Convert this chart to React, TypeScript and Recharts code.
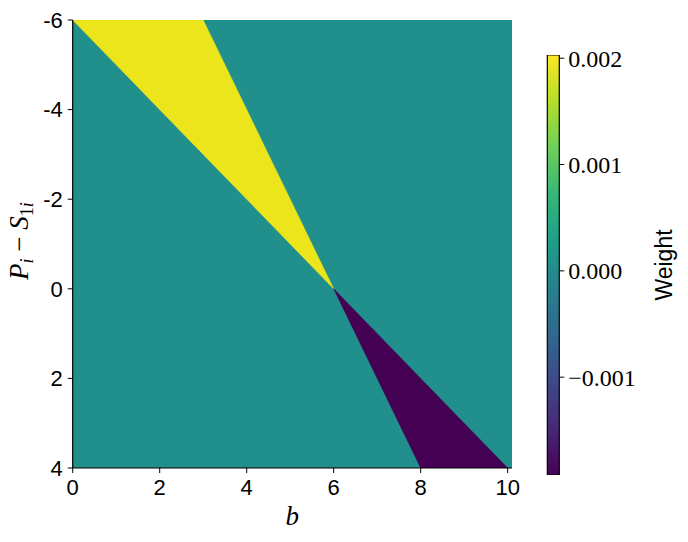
import React from "react"
import {
  ComposedChart,
  Area,
  XAxis,
  YAxis,
  CartesianGrid,
  BarChart,
  Bar,
} from "recharts"

// wedge vertices along b, as [low, high] ranges of P_i - S_1i
const bValues = [0, 3, 6, 8, 10]
const positiveWedge = [[-6, -6], [-6, -3], [0, 0], null, null]
const negativeWedge = [null, null, [0, 0], [2, 4], [4, 4]]

const xTicks = [0, 2, 4, 6, 8, 10]
const yTicks = [-6, -4, -2, 0, 2, 4]

const weightRange = [-0.00192, 0.00203]
const weightTicks = [-0.001, 0, 0.001, 0.002]

const VIRIDIS = [
  "#440154", "#482878", "#3e4989", "#31688e", "#26828e",
  "#1f9e89", "#35b779", "#6ece58", "#b5de2b", "#fde725",
]

const TEAL = "#21908d"
const YELLOW = "#ede51b"
const PURPLE = "#440154"

const SANS = "'Liberation Sans', Arial, sans-serif"
const SERIF = "'Liberation Serif', 'Times New Roman', serif"

const chartData = bValues.map((b, i) => ({
  b,
  positive: positiveWedge[i],
  negative: negativeWedge[i],
}))

const cbarData = [{ name: "weight", range: weightRange }]

function fmtWeight(v: number) {
  const s = Math.abs(v).toFixed(3)
  return v < -1e-9 ? `\u2212${s}` : s
}

function XLabel(props: any) {
  const vb = props.viewBox
  return (
    <text
      x={vb.x + vb.width / 2}
      y={vb.y + 57}
      textAnchor="middle"
      fontFamily={SERIF}
      fontStyle="italic"
      fontSize={27}
      fill="#000"
    >
      b
    </text>
  )
}

function YLabel(props: any) {
  const vb = props.viewBox
  const cx = 28
  const cy = vb.y + vb.height / 2 - 3
  return (
    <text
      x={cx}
      y={cy}
      transform={`rotate(-90 ${cx} ${cy})`}
      textAnchor="middle"
      fontFamily={SERIF}
      fontSize={27}
      fill="#000"
    >
      <tspan fontStyle="italic">P</tspan>
      <tspan fontStyle="italic" fontSize={18} dy={5}>i</tspan>
      <tspan dy={-5}> {"\u2212"} </tspan>
      <tspan fontStyle="italic">S</tspan>
      <tspan fontSize={18} dy={5}>1</tspan>
      <tspan fontStyle="italic" fontSize={18}>i</tspan>
    </text>
  )
}

function WeightLabel(props: any) {
  const vb = props.viewBox
  const cx = vb.x + 105
  const cy = vb.y + vb.height / 2
  return (
    <text
      x={cx}
      y={cy}
      transform={`rotate(-90 ${cx} ${cy})`}
      textAnchor="middle"
      dominantBaseline="central"
      fontFamily={SANS}
      fontSize={23}
      fill="#000"
    >
      Weight
    </text>
  )
}

export default function App() {
  return (
    <div style={{ position: "absolute", left: 0, top: 0, width: 688, height: 542, background: "#fff" }}>
      <div style={{ position: "absolute", left: 0, top: 0 }}>
        <ComposedChart
          width={540}
          height={542}
          data={chartData}
          margin={{ top: 20, right: 28, bottom: 24, left: 22.7 }}
        >
          <CartesianGrid fill={TEAL} horizontal={false} vertical={false} />
          <XAxis
            dataKey="b"
            type="number"
            domain={[0, 10.1]}
            allowDataOverflow
            ticks={xTicks}
            height={50}
            tick={{ fill: "#000", fontSize: 22, fontFamily: SANS }}
            tickLine={{ stroke: "#000" }}
            axisLine={{ stroke: "#000", strokeWidth: 1.2 }}
            tickSize={5}
            tickMargin={6}
            label={{ content: XLabel }}
          />
          <XAxis
            xAxisId="top"
            dataKey="b"
            type="number"
            domain={[0, 10.1]}
            orientation="top"
            height={0}
            tick={false}
            tickLine={false}
            axisLine={{ stroke: "#000", strokeWidth: 1.2 }}
          />
          <YAxis
            type="number"
            domain={[-6, 4]}
            reversed
            allowDataOverflow
            ticks={yTicks}
            width={50}
            tick={{ fill: "#000", fontSize: 22, fontFamily: SANS }}
            tickLine={{ stroke: "#000" }}
            axisLine={{ stroke: "#000", strokeWidth: 1.2 }}
            tickSize={5}
            tickMargin={5}
            label={{ content: YLabel }}
          />
          <YAxis
            yAxisId="right"
            type="number"
            domain={[-6, 4]}
            orientation="right"
            width={0}
            tick={false}
            tickLine={false}
            axisLine={{ stroke: "#000", strokeWidth: 1.2 }}
          />
          <Area
            dataKey="positive"
            type="linear"
            fill={YELLOW}
            fillOpacity={1}
            stroke={YELLOW}
            strokeWidth={0.5}
            isAnimationActive={false}
            dot={false}
            activeDot={false}
          />
          <Area
            dataKey="negative"
            type="linear"
            fill={PURPLE}
            fillOpacity={1}
            stroke={PURPLE}
            strokeWidth={0.5}
            isAnimationActive={false}
            dot={false}
            activeDot={false}
          />
        </ComposedChart>
      </div>

      <div style={{ position: "absolute", left: 537, top: 0 }}>
        <BarChart
          width={151}
          height={542}
          data={cbarData}
          margin={{ top: 55, right: 38.7, bottom: 67, left: 10.3 }}
          barCategoryGap={0}
          barGap={0}
        >
          <defs>
            <linearGradient id="viridis" x1="0" y1="1" x2="0" y2="0">
              {VIRIDIS.map((c, i) => (
                <stop key={c} offset={`${(i / (VIRIDIS.length - 1)) * 100}%`} stopColor={c} />
              ))}
            </linearGradient>
          </defs>
          <XAxis dataKey="name" hide />
          <YAxis
            type="number"
            orientation="right"
            domain={weightRange}
            allowDataOverflow
            ticks={weightTicks}
            tickFormatter={fmtWeight}
            width={90}
            tick={{ fill: "#000", fontSize: 24, fontFamily: SERIF, textAnchor: "start" }}
            tickLine={{ stroke: "#000" }}
            axisLine={false}
            tickSize={5}
            tickMargin={4}
            label={{ content: WeightLabel }}
          />
          <Bar
            dataKey="range"
            fill="url(#viridis)"
            stroke="#000"
            strokeWidth={1.2}
            isAnimationActive={false}
          />
        </BarChart>
      </div>
    </div>
  )
}
